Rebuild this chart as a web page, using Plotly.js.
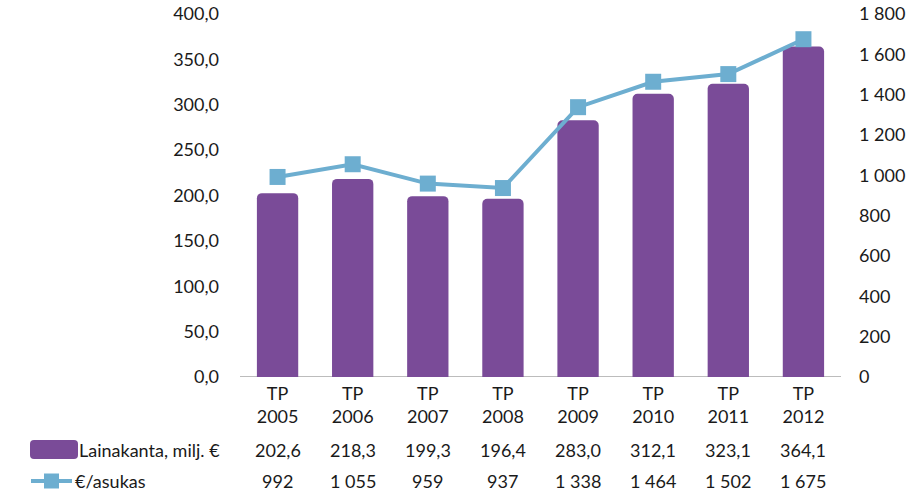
<!DOCTYPE html>
<html><head><meta charset="utf-8">
<script src="https://cdn.plot.ly/plotly-3.0.1.min.js"></script>
<style>html,body{margin:0;padding:0;background:#fff}#c{width:912px;height:498px}</style>
</head><body><div id="c"></div>
<script>
const categories = ["2005","2006","2007","2008","2009","2010","2011","2012"];
const lainakanta = [202.6,218.3,199.3,196.4,283.0,312.1,323.1,364.1];
const perAsukas = [992,1055,959,937,1338,1464,1502,1675];
const seriesNames = ["Lainakanta, milj. €","€/asukas"];
const leftTicks = [0,50,100,150,200,250,300,350,400];
const rightTicks = [0,200,400,600,800,1000,1200,1400,1600,1800];

const W=912,H=498,L=240,R=71,T=14,B=121;
const pw=W-L-R, ph=H-T-B;
const px = x => (x-L)/pw;
const py = y => (H-B-y)/ph;

const purple="#7A4B98", blue="#6DAED0";
const font={family:"Lato, Open Sans, sans-serif",size:18,color:"#1a1a1a"};

function fmtDec(v){return v.toFixed(1).replace('.',',');}
function fmtInt(v){return String(v).replace(/\B(?=(\d{3})+(?!\d))/g,' ');}

const ticktext = categories.map(c=>"TP<br>"+c);

const traces=[
 {type:"bar",x:categories,y:lainakanta,name:seriesNames[0],marker:{color:purple,cornerradius:5,line:{width:0}},width:0.55,yaxis:"y",hoverinfo:"skip"},
 {type:"scatter",mode:"lines+markers",x:categories,y:perAsukas,name:seriesNames[1],yaxis:"y2",line:{color:blue,width:4},marker:{symbol:"square",size:16,color:blue},hoverinfo:"skip"}
];

const annotations=[];
categories.forEach((c,i)=>{
  annotations.push({x:i,xref:"x",y:py(450),yref:"paper",text:fmtDec(lainakanta[i]),showarrow:false,font:font,xanchor:"center",yanchor:"middle"});
  annotations.push({x:i,xref:"x",y:py(481),yref:"paper",text:fmtInt(perAsukas[i]),showarrow:false,font:font,xanchor:"center",yanchor:"middle"});
});
annotations.push({x:px(77),xref:"paper",y:py(450),yref:"paper",text:seriesNames[0],showarrow:false,font:font,xanchor:"left",yanchor:"middle"});
annotations.push({x:px(73),xref:"paper",y:py(481),yref:"paper",text:seriesNames[1],showarrow:false,font:font,xanchor:"left",yanchor:"middle"});

const shapes=[
 {type:"path",xref:"paper",yref:"paper",
  path:(()=>{const x0=30,x1=78,y0=440,y1=459,r=4;
   const P=(x,y)=>px(x)+","+py(y);
   return "M"+P(x0+r,y0)+" L"+P(x1-r,y0)+" Q"+P(x1,y0)+" "+P(x1,y0+r)+" L"+P(x1,y1-r)+" Q"+P(x1,y1)+" "+P(x1-r,y1)+" L"+P(x0+r,y1)+" Q"+P(x0,y1)+" "+P(x0,y1-r)+" L"+P(x0,y0+r)+" Q"+P(x0,y0)+" "+P(x0+r,y0)+" Z";})(),
  fillcolor:purple,line:{width:0}},
 {type:"line",xref:"paper",yref:"paper",x0:px(31),x1:px(72),y0:py(481),y1:py(481),line:{color:blue,width:4}},
 {type:"rect",xref:"paper",yref:"paper",x0:px(44),x1:px(59),y0:py(473.5),y1:py(488.5),fillcolor:blue,line:{width:0}}
];

const layout={
 width:W,height:H,margin:{l:L,r:R,t:T,b:B,pad:0},
 paper_bgcolor:"#fff",plot_bgcolor:"#fff",
 separators:", ",
 showlegend:false,font:font,
 xaxis:{type:"category",tickvals:categories,ticktext:ticktext,showgrid:false,zeroline:false,showline:false,ticks:"",ticklabelstandoff:4,tickfont:font,range:[-0.5,7.5]},
 yaxis:{range:[0,400],tickvals:leftTicks,tickformat:".1f",showgrid:false,zeroline:false,showline:false,ticks:"",ticklabelstandoff:20,tickfont:font},
 yaxis2:{range:[0,1800],tickvals:rightTicks,tickformat:",d",overlaying:"y",side:"right",showgrid:false,zeroline:false,showline:false,ticks:"",ticklabelstandoff:17,tickfont:font},
 annotations:annotations,
 shapes:shapes.concat([{type:"line",xref:"paper",yref:"y",x0:0,x1:1,y0:0,y1:0,line:{color:"#a6a6a6",width:1.5},layer:"below"}])
};
Plotly.newPlot("c",traces,layout,{displayModeBar:false,staticPlot:true});
</script></body></html>
